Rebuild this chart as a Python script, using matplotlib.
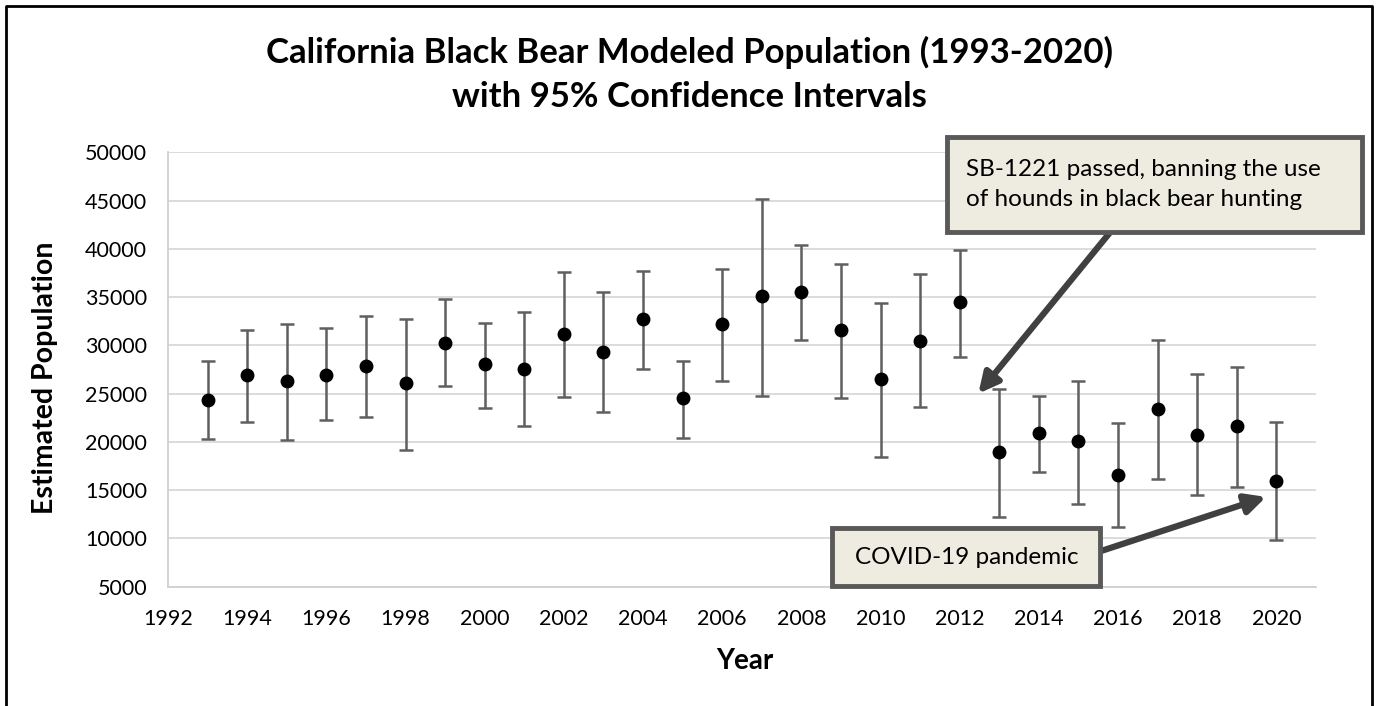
import numpy as np
import matplotlib
matplotlib.use("Agg")
import matplotlib.pyplot as plt
from matplotlib.patches import Rectangle

plt.rcParams.update({"font.family": ["Lato", "DejaVu Sans"], "font.size": 12})

years = np.arange(1993, 2021)
estimate = [24300, 26950, 26300, 26950, 27850, 26050, 30250, 28050, 27600, 31150,
            29350, 32700, 24500, 32250, 35150, 35550, 31550, 26500, 30500, 34500,
            19000, 20950, 20100, 16550, 23400, 20750, 21650, 15900]
upper = [28350, 31550, 32250, 31750, 33050, 32700, 34800, 32300, 33450, 37600,
         35500, 37700, 28350, 37900, 45200, 40400, 38450, 34350, 37400, 39900,
         25500, 24750, 26350, 22000, 30550, 27050, 27750, 22050]
lower = [20300, 22050, 20150, 22250, 22550, 19200, 25800, 23550, 21600, 24700,
         23050, 27550, 20400, 26350, 24750, 30600, 24550, 18400, 23650, 28750,
         12200, 16900, 13550, 11200, 16200, 14550, 15300, 9800]

hounds_note = "SB-1221 passed, banning the use\nof hounds in black bear hunting"
hounds_tip = (2012.47, 25000)
covid_note = "COVID-19 pandemic"
covid_tip = (2019.74, 14300)

W, H = 1378, 706
fig = plt.figure(figsize=(W / 100, H / 100), dpi=100)


def px(x, y):
    # pixel position (from top-left) -> figure fraction
    return x / W, 1 - y / H


ax = fig.add_axes([168 / W, 1 - 586.7 / H, (1316 - 168) / W, (586.7 - 152.3) / H])

est = np.array(estimate)
yerr = [est - np.array(lower), np.array(upper) - est]
ax.errorbar(years, est, yerr=yerr, fmt="o", color="black", ms=9,
            ecolor="#5f5f5f", elinewidth=1.8, capsize=5, capthick=1.8, zorder=3)

ax.set_xlim(1992, 2021)
ax.set_ylim(5000, 50000)
ax.set_xticks(np.arange(1992, 2021, 2))
ax.set_yticks(np.arange(5000, 50001, 5000))
ax.grid(axis="y", color="#d9d9d9", lw=1.3)
ax.set_axisbelow(True)
for s in ["top", "right"]:
    ax.spines[s].set_visible(False)
for s in ["left", "bottom"]:
    ax.spines[s].set_color("#d0d0d0")
    ax.spines[s].set_linewidth(1.3)
ax.tick_params(length=0, labelsize=15.5)
ax.tick_params(axis="y", pad=15)
ax.tick_params(axis="x", pad=16)

ax.set_xlabel("Year", fontsize=20, fontweight="bold", va="center")
ax.xaxis.set_label_coords(0.5026, -0.171)
ax.set_ylabel("Estimated Population", fontsize=20.5, fontweight="bold", va="center")
ax.yaxis.set_label_coords(-0.107, 0.48)

fig.text(0.5, 1 - 52 / H, "California Black Bear Modeled Population (1993-2020)",
         ha="center", va="center", fontsize=25, fontweight="bold")
fig.text(0.5, 1 - 97 / H, "with 95% Confidence Intervals",
         ha="center", va="center", fontsize=25, fontweight="bold")

# outer frame, open at the bottom
fig.add_artist(plt.Line2D([6 / W, 6 / W, 1372 / W, 1372 / W], [0, 1 - 6 / H, 1 - 6 / H, 0],
                          transform=fig.transFigure, color="black", lw=2))

# callout arrows
arrow = dict(arrowstyle="-|>", color="#404040", lw=4.5, mutation_scale=30,
             shrinkA=0, shrinkB=0)
ax.annotate("", xy=hounds_tip, xycoords="data", xytext=px(1112, 230),
            textcoords="figure fraction", arrowprops=arrow, zorder=4)
ax.annotate("", xy=covid_tip, xycoords="data", xytext=px(1095, 553),
            textcoords="figure fraction", arrowprops=arrow, zorder=4)


def callout(x0, y0, x1, y1, text, tx):
    fx0, fy1 = px(x0, y1)
    fx1, fy0 = px(x1, y0)
    fig.add_artist(Rectangle((fx0, fy1), fx1 - fx0, fy0 - fy1, transform=fig.transFigure,
                             facecolor="#eeece1", edgecolor="#595959", lw=3.5, zorder=5))
    fig.text(tx / W, (fy0 + fy1) / 2, text, ha="left", va="center", fontsize=17.5,
             linespacing=1.5, zorder=6)


callout(947, 137, 1362, 232, hounds_note, 966)
callout(832, 528, 1100, 586, covid_note, 855)

fig.savefig("out.png", dpi=100)
